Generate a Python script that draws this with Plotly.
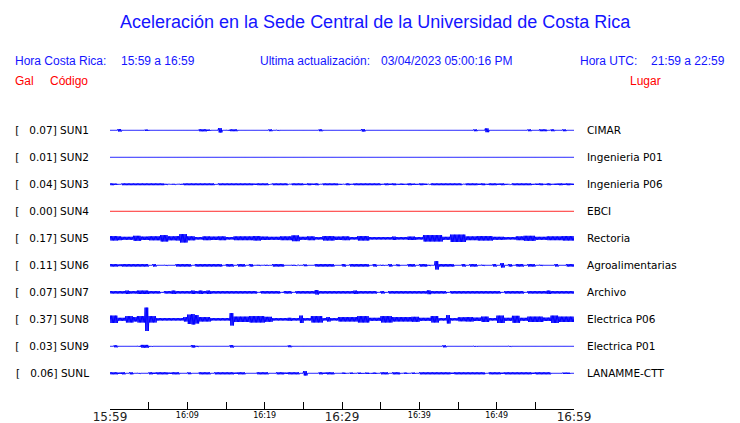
import plotly.graph_objects as go

# ---------------- data ----------------
stations = ["SUN1", "SUN2", "SUN3", "SUN4", "SUN5", "SUN6", "SUN7", "SUN8", "SUN9", "SUNL"]
places = ["CIMAR", "Ingenieria P01", "Ingenieria P06", "EBCI", "Rectoria",
          "Agroalimentarias", "Archivo", "Electrica P06", "Electrica P01", "LANAMME-CTT"]
peak_gal = [0.07, 0.01, 0.04, 0.00, 0.17, 0.11, 0.07, 0.37, 0.03, 0.06]
trace_colors = ["#0000ff", "#0000ff", "#0000ff", "#ff0000", "#0000ff",
                "#0000ff", "#0000ff", "#0000ff", "#0000ff", "#0000ff"]

# envelope (half amplitude, screen-pixel units) every 30 s over the hour 15:59-16:59
env_SUN1 = [0, 0, 1.5, 0, 0, 0, 0, 0, 0, 1.0,
            0, 0, 0, 0, 0, 0, 0, 0, 0, 0,
            0, 0, 0, 1.3, 1.3, 1.0, 0, 0, 2.5, 0,
            0.7, 1.2, 1.2, 0, 0, 0, 0, 0, 0, 0,
            0, 1.2, 0, 0.7, 0, 0, 0, 0, 0, 0,
            0, 0, 0, 0, 1.2, 0, 0, 0, 0, 0,
            0, 0, 0, 0, 0, 1.5, 0, 0, 0, 0,
            0, 0, 0, 0, 0, 0, 0, 0, 0, 0,
            0, 0, 0, 0, 0, 0, 0, 0, 0, 0,
            0, 0, 0, 0, 1.2, 0, 0, 2.2, 0, 0,
            0, 0, 0, 0, 0, 0, 0, 0, 1.2, 0,
            0, 1.2, 1.2, 0, 1.2, 0, 0, 1.2, 0, 0]
env_SUN2 = [0, 0, 0, 0, 0, 0, 0, 0, 0, 0, 0, 0, 0, 0, 0, 0, 0, 0, 0, 0,
            0, 0, 0, 0, 0, 0, 0, 0, 0, 0, 0, 0, 0, 0, 0, 0, 0, 0, 0, 0,
            0, 0, 0, 0, 0, 0, 0, 0, 0, 0, 0, 0, 0, 0, 0, 0, 0, 0, 0, 0,
            0, 0, 0, 0, 0, 0, 0, 0, 0, 0, 0, 0, 0, 0, 0, 0, 0, 0, 0, 0,
            0, 0, 0, 0, 0, 0, 0, 0, 0, 0, 0, 0, 0, 0, 0, 0, 0, 0, 0, 0,
            0, 0, 0, 0, 0, 0, 0, 0, 0, 0, 0, 0, 0, 0, 0, 0, 0, 0, 0, 0]
env_SUN3 = [1.2, 1.0, 0.3, 1.2, 1.2, 1.2, 1.2, 1.2, 1.2, 1.2,
            1.2, 1.2, 1.2, 1.2, 0.8, 0.4, 0.8, 0.4, 0.8, 1.2,
            1.2, 1.2, 1.2, 1.2, 1.2, 1.2, 1.2, 0.4, 1.2, 1.2,
            1.2, 1.2, 1.2, 1.2, 1.2, 1.2, 1.2, 1.0, 1.2, 1.2,
            1.2, 0.5, 1.2, 1.2, 1.2, 1.2, 0.5, 1.2, 1.2, 1.2,
            0.8, 1.2, 1.0, 1.2, 0.4, 1.2, 1.2, 1.2, 1.2, 0.8,
            0.5, 1.2, 0.8, 1.2, 1.2, 1.2, 1.2, 1.2, 1.2, 1.2,
            0.8, 1.2, 1.0, 1.2, 0.8, 1.0, 0.8, 1.2, 1.0, 0.8,
            1.2, 1.0, 0.6, 1.2, 1.2, 1.2, 1.2, 1.2, 1.2, 1.2,
            1.2, 0.5, 1.2, 1.2, 1.2, 1.0, 1.2, 0.8, 1.2, 1.2,
            1.0, 1.2, 0.8, 0.6, 1.2, 1.2, 1.2, 1.2, 1.2, 0.8,
            1.0, 1.2, 0.8, 1.2, 0.8, 1.0, 1.2, 1.0, 1.2, 1.0]
env_SUN4 = [0, 0, 0, 0, 0, 0, 0, 0, 0, 0, 0, 0, 0, 0, 0, 0, 0, 0, 0, 0,
            0, 0, 0, 0, 0, 0, 0, 0, 0, 0, 0, 0, 0, 0, 0, 0, 0, 0, 0, 0,
            0, 0, 0, 0, 0, 0, 0, 0, 0, 0, 0, 0, 0, 0, 0, 0, 0, 0, 0, 0,
            0, 0, 0, 0, 0, 0, 0, 0, 0, 0, 0, 0, 0, 0, 0, 0, 0, 0, 0, 0,
            0, 0, 0, 0, 0, 0, 0, 0, 0, 0, 0, 0, 0, 0, 0, 0, 0, 0, 0, 0,
            0, 0, 0, 0, 0, 0, 0, 0, 0, 0, 0, 0, 0, 0, 0, 0, 0, 0, 0, 0]
env_SUN5 = [2.5, 2.5, 2.2, 1.8, 1.8, 1.8, 2.8, 2.8, 2.0, 2.0,
            2.3, 2.3, 2.3, 3.5, 3.5, 2.3, 2.3, 2.5, 4.5, 4.5,
            2.3, 2.3, 1.5, 1.5, 2.2, 2.2, 2.0, 2.0, 2.2, 2.2,
            1.5, 1.5, 2.2, 2.2, 2.2, 2.2, 2.2, 2.5, 2.5, 2.0,
            2.0, 1.8, 1.8, 1.8, 2.2, 2.2, 2.2, 3.2, 3.2, 1.8,
            1.8, 2.2, 2.2, 1.5, 1.5, 2.5, 2.5, 2.5, 2.0, 2.0,
            2.2, 2.2, 1.5, 1.5, 2.5, 2.5, 2.5, 1.5, 1.5, 1.5,
            1.5, 1.5, 1.5, 2.0, 1.5, 1.5, 1.5, 2.0, 2.0, 1.5,
            1.5, 3.5, 3.5, 3.5, 3.5, 3.5, 1.8, 1.8, 4.0, 4.0,
            4.0, 4.0, 2.2, 2.2, 2.2, 2.5, 2.5, 2.5, 2.5, 1.8,
            1.8, 1.8, 1.5, 1.5, 1.5, 2.2, 2.2, 2.8, 2.8, 2.8,
            1.8, 1.8, 1.8, 2.2, 2.2, 2.2, 2.2, 2.5, 2.5, 2.5]
env_SUN6 = [1.5, 1.5, 1.2, 1.5, 1.5, 1.5, 1.5, 1.5, 1.5, 1.5,
            0, 1.5, 0, 0, 0.7, 0, 0, 1.5, 1.5, 1.5,
            1.5, 0, 1.5, 1.5, 1.5, 1.5, 1.5, 1.5, 1.5, 0,
            1.5, 1.5, 0, 1.5, 1.5, 0, 1.5, 0, 0.8, 0,
            0.8, 0, 1.5, 1.5, 1.5, 0, 0, 0.8, 0.6, 0,
            1.2, 0, 0, 1.5, 1.5, 1.5, 1.5, 1.5, 0, 0,
            1.5, 0, 1.5, 1.5, 1.5, 1.5, 1.5, 0, 1.5, 0,
            0.8, 0, 1.5, 0, 1.2, 0, 0, 1.5, 1.5, 0,
            1.5, 1.5, 0.8, 0, 4.5, 1.5, 1.5, 1.5, 1.5, 0,
            0, 1.5, 0, 1.5, 1.5, 0, 0.8, 0, 0, 1.5,
            0, 2.5, 0, 1.5, 0, 1.5, 1.5, 0, 1.5, 1.5,
            0, 0.8, 0, 0, 0, 1.5, 0, 0, 1.5, 1.5]
env_SUN7 = [1.5, 1.5, 1.5, 1.5, 2.0, 1.5, 1.5, 2.0, 2.0, 2.0,
            1.5, 1.5, 1.5, 0.7, 1.5, 1.5, 2.0, 1.5, 1.5, 1.5,
            1.5, 2.0, 1.5, 2.0, 1.5, 2.0, 1.5, 1.5, 1.5, 1.5,
            1.5, 1.5, 1.5, 1.5, 1.5, 1.5, 1.5, 1.5, 0.7, 1.5,
            1.5, 1.5, 1.5, 1.5, 0.7, 1.5, 1.5, 0.7, 1.5, 1.5,
            1.5, 1.5, 1.5, 2.5, 1.5, 1.5, 1.5, 1.5, 1.5, 1.5,
            1.5, 1.5, 1.5, 2.0, 1.5, 1.5, 1.5, 1.5, 1.5, 0.7,
            1.5, 0.7, 1.5, 1.5, 1.5, 1.5, 1.5, 1.5, 1.5, 1.5,
            1.5, 1.5, 2.2, 1.5, 1.5, 1.5, 1.5, 0.7, 1.5, 1.5,
            1.5, 1.5, 1.5, 1.5, 1.5, 1.5, 1.5, 1.5, 1.5, 1.5,
            1.5, 0.7, 1.5, 1.5, 1.5, 1.5, 1.5, 0.7, 1.5, 1.5,
            1.5, 1.5, 1.5, 2.0, 1.5, 1.5, 1.5, 1.5, 1.5, 1.5]
env_SUN8 = [4.0, 4.0, 1.8, 1.8, 3.5, 3.5, 2.5, 3.5, 3.5, 12.0,
            3.5, 3.5, 1.5, 1.5, 1.5, 1.5, 1.5, 1.5, 1.5, 2.5,
            5.0, 5.5, 4.5, 2.5, 2.5, 2.5, 1.5, 1.5, 1.5, 1.5,
            1.5, 6.5, 3.0, 3.0, 3.0, 3.0, 3.5, 3.5, 3.5, 3.5,
            2.8, 2.8, 1.5, 1.5, 1.5, 1.5, 1.8, 1.5, 1.5, 4.0,
            1.5, 1.5, 3.5, 3.5, 3.5, 1.5, 2.5, 1.5, 1.5, 2.5,
            2.5, 2.5, 2.5, 2.5, 3.5, 3.5, 3.5, 1.8, 1.8, 1.8,
            3.5, 3.5, 3.5, 2.5, 2.5, 2.5, 2.5, 2.5, 2.8, 2.8,
            1.8, 1.8, 1.8, 3.5, 3.5, 1.5, 1.5, 4.5, 1.5, 1.5,
            2.3, 2.3, 2.5, 2.5, 2.0, 2.0, 3.0, 3.0, 1.5, 1.5,
            4.0, 4.0, 1.8, 1.8, 3.8, 3.8, 1.8, 1.8, 3.0, 3.0,
            3.0, 3.0, 2.0, 2.0, 4.0, 4.0, 3.0, 3.0, 3.0, 3.0]
env_SUN9 = [0, 1.3, 0, 0, 0, 0, 0, 0.7, 1.7, 1.7,
            0.7, 0, 0, 0, 0, 0, 0, 0, 0, 0,
            0, 1.5, 0.8, 0, 0, 0, 0, 0, 0, 0,
            0, 1.5, 0, 0, 0, 0, 0, 0, 0, 0,
            0, 0, 0, 0, 0, 0, 1.2, 0, 0, 0,
            0, 0, 0, 0, 0, 0, 0, 0, 0, 0,
            0, 0, 0, 0, 0, 0, 0, 0, 0, 0,
            0, 0, 0, 0, 0, 0, 0, 0, 0, 0,
            0, 0, 0, 0, 0, 0, 1.3, 0, 0, 0,
            0, 0, 0, 0, 0.7, 0, 0, 0, 0, 0,
            0, 0, 0, 0.7, 0, 0, 0, 0, 0, 0,
            0, 0, 0, 0, 0, 0, 0, 0, 0, 0]
env_SUNL = [1.3, 1.3, 1.0, 1.3, 0, 1.3, 0, 0.7, 0, 0,
            1.3, 1.0, 1.3, 1.3, 1.3, 1.0, 1.3, 1.3, 0, 0,
            1.2, 0, 0, 1.3, 1.3, 1.3, 0, 1.3, 1.3, 1.3,
            1.3, 1.3, 1.0, 1.3, 1.3, 0, 0, 0, 1.3, 1.3,
            1.3, 0, 0, 1.3, 1.3, 1.0, 1.3, 1.3, 1.3, 0,
            2.5, 0, 0, 0, 1.3, 1.0, 1.3, 1.3, 0, 0,
            1.0, 0, 1.0, 0, 1.0, 0.7, 1.0, 0.7, 1.0, 0,
            1.3, 1.3, 0, 1.3, 1.3, 0, 1.0, 0, 1.0, 0,
            1.3, 1.3, 1.3, 1.3, 1.3, 1.3, 1.3, 1.3, 1.0, 1.3,
            1.3, 1.3, 1.3, 1.3, 1.3, 1.3, 1.3, 0, 1.3, 1.3,
            1.3, 1.0, 1.3, 1.3, 1.3, 1.3, 1.3, 1.3, 1.3, 1.0,
            1.3, 1.3, 1.3, 1.3, 0, 0, 0, 1.0, 1.0, 0]

envelopes = [env_SUN1, env_SUN2, env_SUN3, env_SUN4, env_SUN5,
             env_SUN6, env_SUN7, env_SUN8, env_SUN9, env_SUNL]

big_ticks = [0, 30, 60]
big_labels = ["15:59", "16:29", "16:59"]
small_ticks = [10, 20, 40, 50]
small_labels = ["16:09", "16:19", "16:39", "16:49"]
minor_ticks = [0, 5, 10, 15, 20, 25, 30, 35, 40, 45, 50, 55, 60]

# ---------------- layout geometry ----------------
W, H = 740, 423
PL, PR, PT, PB = 110, 574, 100, 409
ROW_PX = 27.0
Y0_PX = 130.3
y_top = (Y0_PX - PT) / ROW_PX
y_bot = -(PB - Y0_PX) / ROW_PX
LINE_W = 1.0

def pxx(p):
    return (p - PL) / (PR - PL)

def pxy(p):
    return (PB - p) / (PB - PT)

fig = go.Figure()

BIN_MIN = 0.5
STROKES = 6
for i, (env, col) in enumerate(zip(envelopes, trace_colors)):
    xs, ys = [0.0], [-i]
    for k, a in enumerate(env):
        amp = max(a - 0.3, 0) if a > 0 else 0
        for j in range(STROKES):
            xs.append((k + (j + 0.5) / STROKES) * BIN_MIN)
            ys.append(-i + (amp if j % 2 == 0 else -amp) / ROW_PX)
    xs.append(60.0)
    ys.append(-i)
    fig.add_trace(go.Scatter(x=xs, y=ys, mode="lines",
                             line=dict(color=col, width=LINE_W, simplify=False),
                             showlegend=False, hoverinfo="skip"))

# placeholder trace so the overlaid label axes are drawn
fig.add_trace(go.Scatter(x=[None], y=[None], xaxis="x2", yaxis="y2",
                         mode="lines", showlegend=False, hoverinfo="skip"))

left_labels = ["[\u00a0\u00a0 %.2f] %s" % (g, s) for g, s in zip(peak_gal, stations)]
rows = [-i for i in range(len(stations))]

LABEL_FONT = dict(family="DejaVu Sans", size=10.5, color="black")
BLUE = "#1414ff"
RED = "#ff0000"

fig.update_layout(
    width=W, height=H,
    margin=dict(l=PL, r=W - PR, t=PT, b=H - PB, pad=0, autoexpand=False),
    paper_bgcolor="white", plot_bgcolor="white",
    showlegend=False,
    xaxis=dict(range=[0, 60], tickvals=minor_ticks,
               ticktext=[big_labels[big_ticks.index(t)] if t in big_ticks else "" for t in minor_ticks],
               ticks="inside", ticklen=7, tickcolor="black", tickwidth=1,
               showline=True, linecolor="black", linewidth=1,
               showgrid=False, zeroline=False, automargin=False,
               ticklabelstandoff=-3,
               tickfont=dict(family="DejaVu Sans", size=12, color="#222222")),
    xaxis2=dict(range=[0, 60], overlaying="x", anchor="y", side="bottom",
                tickvals=small_ticks, ticktext=small_labels, ticks="",
                showline=False, showgrid=False, zeroline=False, automargin=False,
                tickfont=dict(family="DejaVu Sans", size=8, color="black")),
    yaxis=dict(range=[y_bot, y_top], tickvals=rows, ticktext=left_labels,
               ticks="", showline=False, showgrid=False, zeroline=False,
               automargin=False, ticklabelstandoff=20, tickfont=LABEL_FONT),
    yaxis2=dict(range=[y_bot, y_top], overlaying="y", side="right", anchor="x",
                tickvals=rows, ticktext=places, ticks="",
                showline=False, showgrid=False, zeroline=False,
                automargin=False, ticklabelstandoff=12, tickfont=LABEL_FONT),
)

def note(text, x, y, color, size=12, anchor="left"):
    fig.add_annotation(text=text, x=pxx(x), y=pxy(y), xref="paper", yref="paper",
                       xanchor=anchor, yanchor="middle", showarrow=False,
                       font=dict(family="Liberation Sans", size=size, color=color))

note("Aceleración en la Sede Central de la Universidad de Costa Rica", 375, 22, BLUE, 18, "center")
note("Hora Costa Rica:", 13, 61, BLUE)
note("15:59 a 16:59", 119, 61, BLUE)
note("Ultima actualización:", 258, 61, BLUE)
note("03/04/2023 05:00:16 PM", 379, 61, BLUE)
note("Hora UTC:", 578, 61, BLUE)
note("21:59 a 22:59", 649, 61, BLUE)
note("Gal", 13, 81, RED)
note("Código", 48, 81, RED)
note("Lugar", 628, 81, RED)

fig.write_html("out.html", config={"displayModeBar": False},
               post_script="document.body.style.margin='0px';")
